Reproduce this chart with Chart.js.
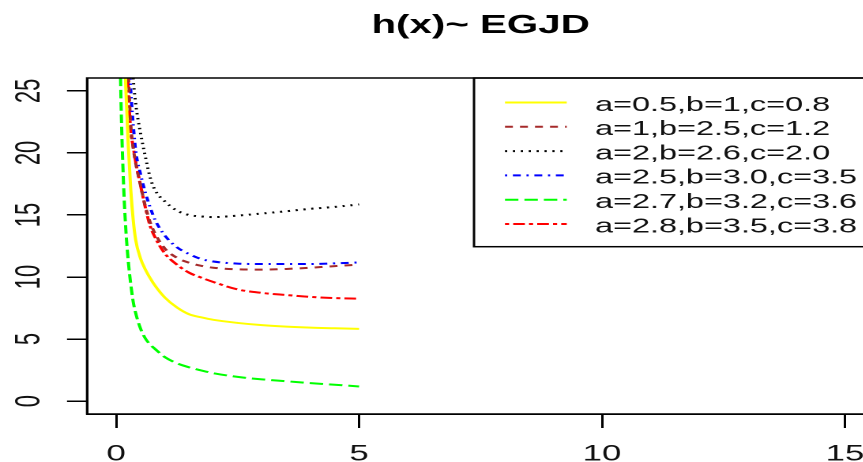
<!DOCTYPE html>
<html>
<head>
<meta charset="utf-8">
<style>
  html, body { margin: 0; padding: 0; background: #fff; overflow: hidden; width: 863px; height: 462px; }
  /* the reference is an R plot stretched horizontally, so draw narrow and stretch */
  #wrap { position: absolute; left: 0; top: 0; width: 557px; height: 462px; transform: scaleX(1.58); transform-origin: 0 0; }
</style>
<script src="https://cdn.jsdelivr.net/npm/chart.js@4/dist/chart.umd.min.js"></script>
</head>
<body>
<div id="wrap"><canvas id="c" width="557" height="462"></canvas></div>
<script>
// data
const xValues = [0.05, 0.1, 0.15, 0.2, 0.25, 0.3, 0.35, 0.4, 0.5, 0.6, 0.7, 0.8, 1.0, 1.25, 1.5, 1.75, 2.0, 2.5, 3.0, 3.5, 4.0, 4.5, 5.0];
const seriesLabels = ['a=0.5,b=1,c=0.8', 'a=1,b=2.5,c=1.2', 'a=2,b=2.6,c=2.0', 'a=2.5,b=3.0,c=3.5', 'a=2.7,b=3.2,c=3.6', 'a=2.8,b=3.5,c=3.8'];
const yellowH = [80, 45, 32, 25, 20.5, 17, 14.6, 13.0, 11.5, 10.6, 9.9, 9.3, 8.35, 7.55, 7.0, 6.75, 6.55, 6.3, 6.12, 6.0, 5.92, 5.87, 5.82];
const brownH  = [95, 62, 44, 33, 26.5, 22.2, 20.4, 19.2, 17.4, 15.7, 14.4, 13.5, 12.3, 11.55, 11.15, 10.9, 10.75, 10.62, 10.6, 10.65, 10.75, 10.88, 11.0];
const blackH  = [130, 85, 60, 45, 35, 29.5, 26, 24, 21.6, 19.7, 18.0, 17.0, 16.1, 15.35, 15.0, 14.88, 14.83, 14.95, 15.12, 15.3, 15.5, 15.65, 15.85];
const blueH   = [110, 72, 50, 37, 29.5, 25, 22.3, 20.2, 18.3, 16.8, 15.6, 14.6, 13.35, 12.4, 11.85, 11.45, 11.25, 11.08, 11.05, 11.05, 11.05, 11.1, 11.18];
const greenH  = [35, 24, 17.6, 13.7, 11.2, 9.4, 8.0, 7.1, 5.85, 5.05, 4.55, 4.2, 3.55, 3.05, 2.72, 2.47, 2.25, 1.95, 1.75, 1.6, 1.45, 1.32, 1.18];
const redH    = [90, 60, 42, 31, 25, 21.8, 20.5, 19.3, 17.4, 15.6, 14.1, 13.2, 11.9, 11.0, 10.35, 9.95, 9.6, 9.0, 8.72, 8.55, 8.4, 8.3, 8.25];
const xTicks = [0, 5, 10, 15];
const yTicks = [0, 5, 10, 15, 20, 25];

// R line types lty 1..6
const colors = ['#ffff00', '#a52a2a', '#000000', '#0000ff', '#00ff00', '#ff0000'];
const dashes = [[], [5, 4.5], [1.4, 3.6], [1.4, 3.6, 5, 3.6], [8.5, 3.8], [2.6, 2.6, 7.4, 2.6]];
const FONT = '"Liberation Sans", Arial, sans-serif';

const allSeries = [yellowH, brownH, blackH, blueH, greenH, redH];

const decor = {
  id: 'decor',
  afterDraw(chart) {
    const { ctx, chartArea: a, scales: { x, y } } = chart;
    ctx.save();
    ctx.strokeStyle = '#000';
    ctx.lineWidth = 1.5;
    ctx.strokeRect(a.left, a.top, a.right - a.left, a.bottom - a.top);

    ctx.fillStyle = '#111';
    ctx.font = '22px ' + FONT;
    ctx.textAlign = 'center';
    ctx.textBaseline = 'alphabetic';
    xTicks.forEach(v => ctx.fillText(String(v), x.getPixelForValue(v), 460.5));
    yTicks.forEach(v => {
      ctx.save();
      ctx.translate(25, y.getPixelForValue(v));
      ctx.rotate(-Math.PI / 2);
      ctx.fillText(String(v), 0, 0);
      ctx.restore();
    });

    ctx.fillStyle = '#000';
    ctx.font = 'bold 25.5px ' + FONT;
    ctx.fillText('h(x)~ EGJD', (a.left + a.right) / 2, 33);

    // legend, topright
    const lx = 300, lb = 246.7;
    ctx.lineWidth = 1.5;
    ctx.strokeRect(lx, a.top, a.right - lx, lb - a.top);
    ctx.font = '20.5px ' + FONT;
    ctx.textAlign = 'left';
    seriesLabels.forEach((label, i) => {
      const ry = 102.5 + 24.3 * i;
      ctx.strokeStyle = colors[i];
      ctx.lineWidth = 2;
      ctx.setLineDash(dashes[i]);
      ctx.beginPath();
      ctx.moveTo(319.6, ry);
      ctx.lineTo(358.7, ry);
      ctx.stroke();
      ctx.setLineDash([]);
      ctx.fillStyle = '#111';
      ctx.fillText(label, 376.6, ry + 8.3);
    });
    ctx.restore();
  }
};

new Chart(document.getElementById('c'), {
  type: 'line',
  data: {
    datasets: allSeries.map((vals, i) => ({
      label: seriesLabels[i],
      data: vals.map((v, k) => ({ x: xValues[k], y: v })),
      borderColor: colors[i],
      borderDash: dashes[i],
      borderWidth: 2,
      pointRadius: 0,
      fill: false,
      cubicInterpolationMode: 'monotone',
    })),
  },
  options: {
    responsive: false,
    animation: false,
    devicePixelRatio: 2,
    layout: { padding: { top: 78, right: 3.8, bottom: 0, left: 0 } },
    plugins: { legend: { display: false }, title: { display: false }, tooltip: { enabled: false } },
    scales: {
      x: {
        type: 'linear', min: -0.6, max: 15.6,
        afterBuildTicks: s => { s.ticks = xTicks.map(v => ({ value: v })); },
        afterFit: s => { s.height = 48; },
        ticks: { display: false },
        grid: { drawOnChartArea: false, drawTicks: true, tickLength: 14, color: '#000', lineWidth: 1.5 },
        border: { display: true, color: '#000', width: 1.5 },
      },
      y: {
        type: 'linear', min: -1.04, max: 26.04,
        afterBuildTicks: s => { s.ticks = yTicks.map(v => ({ value: v })); },
        afterFit: s => { s.width = 55.1; },
        ticks: { display: false },
        grid: { drawOnChartArea: false, drawTicks: true, tickLength: 12.7, color: '#000', lineWidth: 1.5 },
        border: { display: true, color: '#000', width: 1.5 },
      },
    },
  },
  plugins: [decor],
});
</script>
</body>
</html>
